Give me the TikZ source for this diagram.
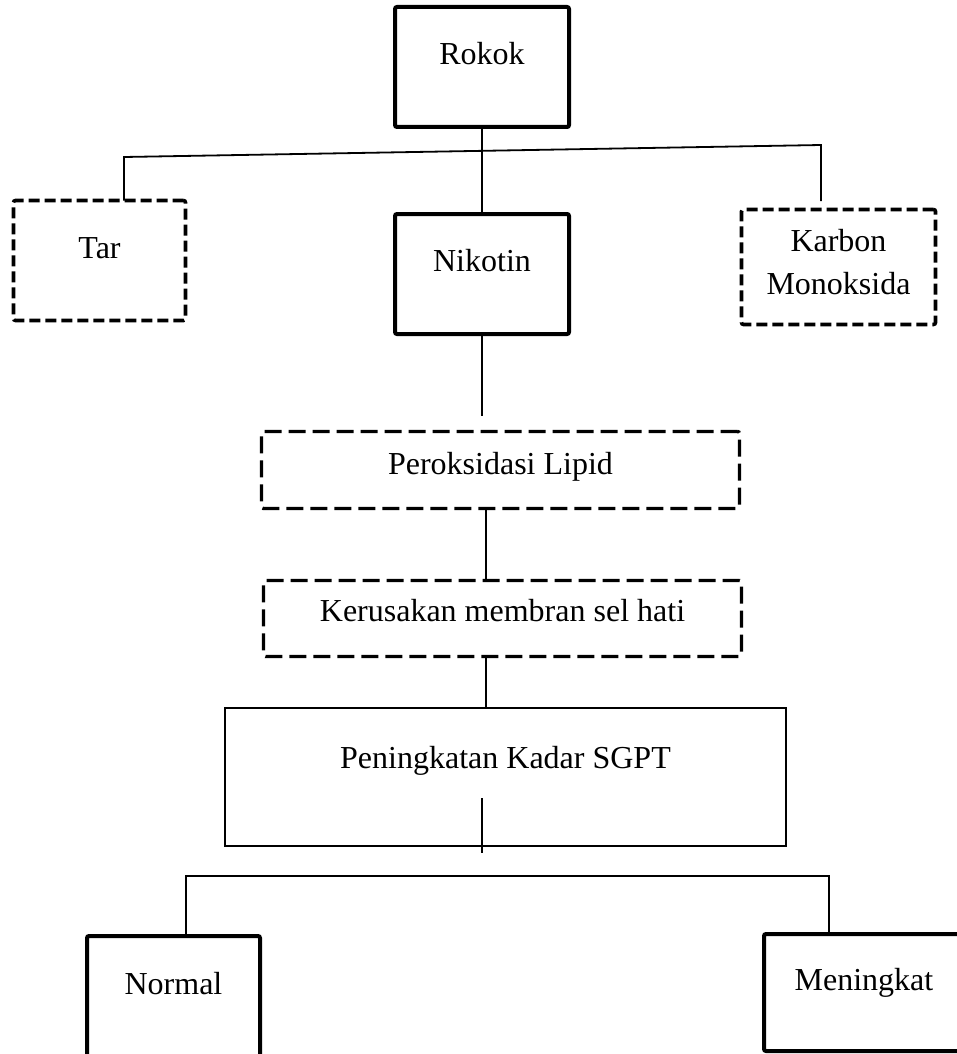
\documentclass[tikz,border=0pt]{standalone}
\usepackage{fontspec}
\setmainfont{Liberation Serif}
\usetikzlibrary{positioning}

\begin{document}
\begin{tikzpicture}[x=0.5pt, y=-0.5pt,
    box/.style={draw, outer sep=0pt, inner sep=0pt, align=center,
      font=\fontsize{16}{21.5}\selectfont},
    solidbox/.style={box, line width=2pt, rounded corners=1pt},
    dashbox/.style={box, line width=1.8pt, dash pattern=on 5.5pt off 2.5pt, rounded corners=1pt},
    longdashbox/.style={box, line width=1.7pt, dash pattern=on 8.5pt off 3.5pt, rounded corners=1pt},
    plainbox/.style={box, line width=1.1pt},
    link/.style={line width=0.9pt}]
    \useasboundingbox (0,0) rectangle (957,1054);
    % upper level
    \node[solidbox, minimum width=87pt, minimum height=60pt, text depth=14pt] (rokok) at (482,67) {Rokok};
    \node[dashbox, minimum width=86pt, minimum height=60pt, text depth=12pt] (tar) at (99.5,260.5) {Tar};
    \node[solidbox, minimum width=87pt, minimum height=60pt, text depth=14pt] (nikotin) at (482,274) {Nikotin};
    \node[dashbox, minimum width=97pt, minimum height=57.5pt, text depth=5pt] (karbon) at (838.5,267) {Karbon\\Monoksida};
    \coordinate (busL) at (124,157);
    \coordinate (busR) at (821,145);
    \coordinate (karbonEnd) at (821,201);
    \coordinate (nikEnd) at (482,416);
    % middle chain
    \node[longdashbox, minimum width=239pt, minimum height=38.5pt, text depth=7pt] (lipid) at (500.5,470) {Peroksidasi Lipid};
    \node[longdashbox, minimum width=239pt, minimum height=38pt, text depth=8pt] (membran) at (502.5,618.5) {Kerusakan membran sel hati};
    \node[plainbox, minimum width=280.5pt, minimum height=69pt, text depth=20pt] (sgpt) at (505.5,777) {Peningkatan Kadar SGPT};
    \coordinate (spine) at (486,0);
    \coordinate (sgptTop) at (482,798);
    \coordinate (sgptEnd) at (482,853);
    % lower level
    \node[solidbox, minimum width=86.5pt, minimum height=72pt, text depth=25pt] (normal) at (173.5,1008) {Normal};
    \node[solidbox, minimum width=100pt, minimum height=58.5pt, text depth=13.5pt] (naik) at (864,992.5) {Meningkat};
    \coordinate (busBL) at (186,876);
    \coordinate (busBR) at (829,876);

    \draw[link] (rokok.south) -- (nikotin.north);
    \draw[link] (busL |- tar.north) -- (busL) -- (busR) -- (karbonEnd);
    \draw[link] (nikotin.south) -- (nikEnd);
    \draw[link] (lipid.south -| spine) -- (membran.north -| spine);
    \draw[link] (membran.south -| spine) -- (sgpt.north -| spine);
    \draw[link] (sgptTop) -- (sgptEnd);
    \draw[link] (normal.north -| busBL) -- (busBL) -- (busBR) -- (naik.north -| busBR);
\end{tikzpicture}
\end{document}
